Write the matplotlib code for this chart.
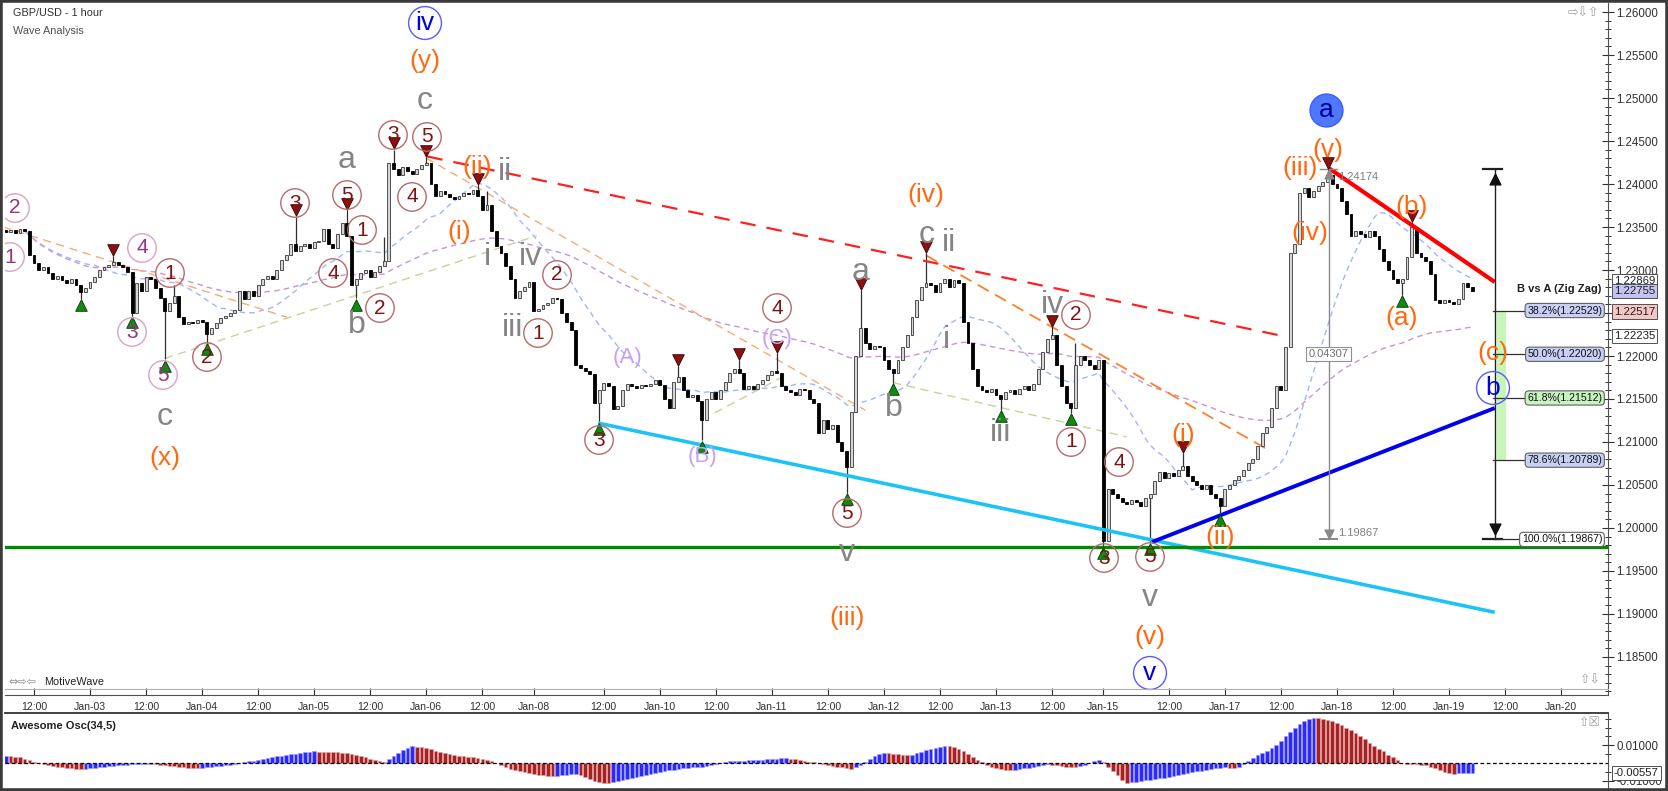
import numpy as np
import pandas as pd
import matplotlib
matplotlib.use("Agg")
import matplotlib.pyplot as plt
from matplotlib.lines import Line2D
from matplotlib.patches import Rectangle
import matplotlib.transforms as mtrans

plt.rcParams['font.family'] = ['Liberation Sans', 'DejaVu Sans']

# ---------------- DATA ----------------
FIRST_BAR = -6          # index of the first hourly bar (bar 0 = Jan-02 12:00)
first_open = 1.2346
closes = [
    # -6 .. 3
    1.2344, 1.2346, 1.2343, 1.2348, 1.2345, 1.2318, 1.2308, 1.2300, 1.2303, 1.2296,
    # 4 .. 13
    1.2290, 1.2293, 1.2288, 1.2285, 1.2289, 1.2282, 1.2274, 1.2279, 1.2286, 1.2292,
    # 14 .. 23
    1.2300, 1.2304, 1.2306, 1.2309, 1.2306, 1.2304, 1.2298, 1.2250, 1.2285, 1.2276,
    # 24 .. 33
    1.2292, 1.2290, 1.2279, 1.2268, 1.2252, 1.2262, 1.2270, 1.2245, 1.2237, 1.2240,
    # 34 .. 43
    1.2238, 1.2242, 1.2239, 1.2226, 1.2233, 1.2238, 1.2244, 1.2247, 1.2250, 1.2254,
    # 44 .. 53
    1.2276, 1.2266, 1.2276, 1.2270, 1.2282, 1.2290, 1.2293, 1.2289, 1.2300, 1.2312,
    # 54 .. 63
    1.2318, 1.2330, 1.2322, 1.2328, 1.2330, 1.2326, 1.2333, 1.2334, 1.2348, 1.2330,
    # 64 .. 73
    1.2326, 1.2342, 1.2355, 1.2340, 1.2282, 1.2290, 1.2296, 1.2300, 1.2292, 1.2298,
    # 74 .. 83
    1.2305, 1.2310, 1.2425, 1.2418, 1.2410, 1.2420, 1.2415, 1.2412, 1.2418, 1.2422,
    # 84 .. 93
    1.2425, 1.2400, 1.2386, 1.2392, 1.2388, 1.2385, 1.2383, 1.2386, 1.2390, 1.2388,
    # 94 .. 103
    1.2393, 1.2386, 1.2370, 1.2376, 1.2345, 1.2328, 1.2320, 1.2305, 1.2290, 1.2268,
    # 104 .. 113
    1.2276, 1.2280, 1.2286, 1.2252, 1.2255, 1.2259, 1.2262, 1.2268, 1.2266, 1.2250,
    # 114 .. 123
    1.2240, 1.2230, 1.2190, 1.2186, 1.2183, 1.2179, 1.2145, 1.2160, 1.2169, 1.2165,
    # 124 .. 133
    1.2138, 1.2142, 1.2160, 1.2168, 1.2165, 1.2163, 1.2166, 1.2165, 1.2168, 1.2172,
    # 134 .. 143
    1.2166, 1.2150, 1.2140, 1.2170, 1.2176, 1.2160, 1.2152, 1.2155, 1.2148, 1.2125,
    # 144 .. 153
    1.2150, 1.2158, 1.2150, 1.2160, 1.2170, 1.2180, 1.2185, 1.2180, 1.2162, 1.2165,
    # 154 .. 163
    1.2162, 1.2168, 1.2172, 1.2178, 1.2182, 1.2180, 1.2165, 1.2160, 1.2158, 1.2155,
    # 164 .. 173
    1.2162, 1.2160, 1.2150, 1.2145, 1.2110, 1.2125, 1.2115, 1.2120, 1.2100, 1.2090,
    # 174 .. 183
    1.2071, 1.2135, 1.2200, 1.2232, 1.2215, 1.2208, 1.2212, 1.2210, 1.2195, 1.2185,
    # 184 .. 193
    1.2180, 1.2195, 1.2210, 1.2225, 1.2245, 1.2265, 1.2280, 1.2285, 1.2282, 1.2275,
    # 194 .. 203
    1.2285, 1.2290, 1.2280, 1.2288, 1.2285, 1.2240, 1.2215, 1.2185, 1.2165, 1.2160,
    # 204 .. 213
    1.2158, 1.2162, 1.2155, 1.2150, 1.2158, 1.2160, 1.2156, 1.2162, 1.2165, 1.2160,
    # 214 .. 223
    1.2168, 1.2185, 1.2205, 1.2220, 1.2225, 1.2190, 1.2165, 1.2145, 1.2140, 1.2190,
    # 224 .. 233
    1.2200, 1.2195, 1.2190, 1.2185, 1.2195, 1.1985, 1.2045, 1.2040, 1.2035, 1.2030,
    # 234 .. 243
    1.2028, 1.2032, 1.2030, 1.2025, 1.2035, 1.2040, 1.2055, 1.2065, 1.2058, 1.2064,
    # 244 .. 253
    1.2060, 1.2068, 1.2072, 1.2060, 1.2055, 1.2050, 1.2045, 1.2050, 1.2040, 1.2035,
    # 254 .. 263
    1.2025, 1.2045, 1.2050, 1.2056, 1.2060, 1.2068, 1.2075, 1.2080, 1.2095, 1.2110,
    # 264 .. 273
    1.2118, 1.2140, 1.2165, 1.2160, 1.2210, 1.2320, 1.2330, 1.2390, 1.2395, 1.2385,
    # 274 .. 283
    1.2392, 1.2398, 1.2402, 1.2410, 1.2400, 1.2395, 1.2380, 1.2365, 1.2340, 1.2345,
    # 284 .. 293
    1.2342, 1.2338, 1.2345, 1.2340, 1.2325, 1.2310, 1.2300, 1.2290, 1.2285, 1.2290,
    # 294 .. 303
    1.2315, 1.2350, 1.2320, 1.2315, 1.2310, 1.2295, 1.2265, 1.2262, 1.2265, 1.2263,
    # 304 .. 308
    1.2260, 1.2266, 1.2285, 1.2280, 1.22755,
]
# wick extremes (bar -> price)
wick_highs = {17: 1.2316, 30: 1.2282, 56: 1.2362, 67: 1.2370, 75: 1.2338, 77: 1.2440,
              84: 1.2431, 95: 1.2399, 97: 1.2392, 138: 1.2188, 151: 1.2195, 159: 1.2203,
              177: 1.2277, 191: 1.2320, 218: 1.2234, 223: 1.2215, 246: 1.2087,
              277: 1.24174, 295: 1.2356}
wick_lows = {10: 1.2266, 21: 1.2247, 28: 1.2196, 37: 1.2215, 69: 1.2267, 121: 1.2122,
             143: 1.2102, 174: 1.2041, 184: 1.2169, 207: 1.2137, 222: 1.2134,
             229: 1.1978, 239: 1.1983, 254: 1.2017, 293: 1.2271}
pivot_high_bars = [17, 56, 67, 77, 84, 95, 138, 151, 159, 177, 191, 218, 246, 277, 295]
pivot_low_bars = [10, 21, 28, 37, 69, 121, 143, 174, 184, 207, 222, 229, 239, 254, 293]

# Awesome Oscillator values (x 0.001), one per bar
ao_milli = [
    4.2, 4.0, 3.6, 3.2, 2.5, 1.5,
    0.8, 0.2, -0.3,
    -1.0, -1.6, -2.1, -2.5, -2.8,
    -3.0, -3.2, -3.35, -3.3, -3.1, -2.8,
    -2.5, -2.2, -1.9, -1.6, -1.3, -1.1, -0.9, -0.7, -0.6, -0.5, -0.4,
    -0.6, -0.8, -1.0, -1.3, -1.6, -1.9, -2.2, -2.4, -2.6, -2.8, -2.9,
    -2.7, -2.5, -2.2, -1.9, -1.6, -1.3, -0.9, -0.5, -0.1,
    0.4, 0.9, 1.4, 1.9, 2.4, 2.9, 3.3, 3.7, 4.1, 4.5, 4.9, 5.3, 5.7, 6.0, 6.3, 6.5,
    6.4, 6.3, 6.2, 6.1, 6.0, 5.8, 5.5, 5.1, 4.6, 4.0, 3.3,
    2.4, 1.6, 1.0, 0.8,
    2.0, 4.0, 5.8, 7.2, 8.5, 9.4,
    9.2, 8.9, 8.4, 7.8, 7.0, 6.2, 5.5, 4.9,
    4.5, 4.2, 3.9, 3.6, 3.3, 3.0, 2.5, 1.8, 0.9,
    -0.2, -1.3, -2.3, -3.2, -4.0, -4.7, -5.3, -5.8, -6.2, -6.6, -6.9, -7.2, -7.5,
    -7.2, -6.8, -6.5, -6.3, -6.2,
    -7.0, -8.0, -9.0, -9.9, -10.6, -11.1, -11.3,
    -10.8, -10.2, -9.6, -9.0, -8.4, -7.8, -7.2, -6.6, -6.0, -5.5, -5.0, -4.5, -4.1, -3.7,
    -3.3, -3.0, -2.7, -2.4, -2.2,
    -2.0, -1.5, -1.0, -0.4, 0.2, 0.8,
    1.0, 1.2, 1.3, 1.4, 1.5, 1.6, 1.7, 1.8, 2.0,
    2.2, 2.4, 2.6, 2.7,
    2.4, 2.0, 1.6, 1.2, 0.8, 0.4, 0.0,
    -0.5, -1.0, -1.5, -2.0, -2.5, -3.0, -3.4,
    -2.5, -1.0, 0.8, 2.5, 4.0, 5.0, 5.8,
    5.5, 5.2, 4.9, 4.6, 4.3,
    4.8, 5.5, 6.3, 7.1, 7.9, 8.6, 9.2, 9.6,
    9.4, 8.9, 8.0, 6.8, 5.2, 3.5, 1.8, 0.3,
    -1.0, -2.0, -2.8, -3.4, -3.8, -4.0,
    -3.8, -3.5, -3.1, -2.7, -2.2, -1.7, -1.2, -0.6,
    -0.9, -1.3, -1.7, -2.0, -2.3, -2.5,
    -1.8, -0.9, 0.0, 1.0, 1.8,
    0.5, -2.0, -4.5, -7.0, -9.5, -11.3,
    -11.0, -10.6, -10.2, -9.8, -9.4, -9.0, -8.6, -8.2, -7.7, -7.2, -6.6, -6.1, -5.6, -5.1,
    -4.7, -4.3, -3.9, -3.5, -3.1, -2.8, -2.5,
    -2.7, -2.8,
    -2.2, -0.8, 1.0, 2.8, 4.5, 5.8, 7.0, 8.2, 10.0, 12.5, 15.0, 17.5, 20.0, 22.0, 23.5,
    24.8, 25.5,
    25.3, 25.0, 24.4, 23.6, 22.8, 21.6, 20.0, 18.5, 17.1, 15.2, 13.3, 11.3, 9.6, 8.0,
    6.5, 4.8, 3.2, 1.8,
    -0.2, -0.4, -0.6, -0.8, -1.0, -1.4, -2.0, -3.0, -4.1, -5.0, -5.8, -6.2,
    -5.9, -5.7, -5.6, -5.57,
]

tick_bars = [0, 12, 24, 36, 48, 60, 72, 84, 96, 107, 122, 134, 146, 158, 170, 182,
             194, 206, 218, 229, 243, 255, 267, 279, 291, 303, 315, 327]
tick_labels = ['12:00', 'Jan-03', '12:00', 'Jan-04', '12:00', 'Jan-05', '12:00', 'Jan-06',
               '12:00', 'Jan-08', '12:00', 'Jan-10', '12:00', 'Jan-11', '12:00', 'Jan-12',
               '12:00', 'Jan-13', '12:00', 'Jan-15', '12:00', 'Jan-17', '12:00', 'Jan-18',
               '12:00', 'Jan-19', '12:00', 'Jan-20']

# trend lines: (bar0, price0, bar1, price1)
line_red_dashed = (84.2, 1.2432, 268.5, 1.2222)
line_red_solid = (277.2, 1.24186, 312.8, 1.2286)
line_cyan = (120.8, 1.2122, 312.8, 1.1902)
line_blue = (239.4, 1.19837, 312.8, 1.21395)
support_level = 1.1978
orange_thin_lines = [(-6.6, 1.2350, 54.2, 1.2245), (84.0, 1.2430, 178.0, 1.2137)]
orange_bold_lines = [(191.0, 1.2317, 263.6, 1.2093)]
tan_lines = [(28.0, 1.2197, 107.7, 1.2340), (184.0, 1.2169, 234.0, 1.2106),
             (145.8, 1.2134, 160.4, 1.2176)]

# measurement of wave A
wave_a_high = 1.24174
wave_a_low = 1.19867
measure_bar = 277.2
fib_bar = 312.8
fib_ratios = [38.2, 50.0, 61.8, 78.6, 100.0]
fib_prices = [1.22529, 1.22020, 1.21512, 1.20789, 1.19867]
fib_fills = ['#c9d0f5', '#c9d0f5', '#c8f2c0', '#c9d0f5', '#ffffff']

price_tags = [1.22869, 1.22755, 1.22517, 1.22235]
price_tag_fills = ['#ffffff', '#c4c4f4', '#f6c6c6', '#ffffff']
ao_last = -0.00557

# wave labels: (text, bar, price, style)
wave_labels = [
    ("2", -4.07, 1.23721, "pc"), ("1", -5.14, 1.23151, "pc"), ("4", 23.13, 1.23256, "pc"),
    ("3", 20.99, 1.22279, "pc"), ("5", 27.62, 1.21779, "pc"),
    ("1", 29.12, 1.22965, "rc"), ("2", 37.04, 1.21988, "rc"), ("3", 55.89, 1.23779, "rc"),
    ("5", 67.02, 1.23872, "rc"), ("1", 70.24, 1.23465, "rc"), ("4", 64.03, 1.22965, "rc"),
    ("2", 74.09, 1.22558, "rc"), ("3", 76.87, 1.24570, "rc"), ("4", 80.94, 1.23849, "rc"),
    ("5", 84.15, 1.24547, "rc"), ("2", 111.99, 1.22942, "rc"), ("1", 107.92, 1.22267, "rc"),
    ("3", 120.99, 1.21023, "rc"), ("4", 159.10, 1.22558, "rc"), ("5", 174.09, 1.20174, "rc"),
    ("2", 223.12, 1.22477, "rc"), ("1", 222.06, 1.21000, "rc"), ("4", 232.33, 1.20767, "rc"),
    ("3", 229.12, 1.19651, "rc"), ("5", 238.97, 1.19663, "rc"),
    ("a", 67.02, 1.24279, "g"), ("b", 69.16, 1.22360, "g"), ("c", 28.05, 1.21291, "g"),
    ("c", 83.73, 1.24965, "g"), ("a", 177.09, 1.22977, "g"), ("b", 184.15, 1.21395, "g"),
    ("c", 191.22, 1.23407, "g"),
    ("ii", 100.86, 1.24140, "g"), ("i", 97.0, 1.23151, "g"), ("iv", 106.21, 1.23151, "g"),
    ("iii", 102.57, 1.22326, "g"), ("ii", 195.93, 1.23314, "g"), ("i", 195.29, 1.22186, "g"),
    ("iii", 207.07, 1.21105, "g"), ("iv", 217.99, 1.22593, "g"), ("v", 174.09, 1.19709, "g"),
    ("v", 238.97, 1.19186, "g"),
    ("(x)", 28.05, 1.20814, "o"), ("(y)", 83.73, 1.25430, "o"), ("(ii)", 94.86, 1.24198, "o"),
    ("(i)", 91.01, 1.23442, "o"), ("(iv)", 191.01, 1.23872, "o"), ("(iii)", 174.09, 1.18953, "o"),
    ("(i)", 246.04, 1.21081, "o"), ("(v)", 238.97, 1.18733, "o"), ("(ii)", 253.96, 1.19895, "o"),
    ("(iii)", 271.09, 1.24186, "o"), ("(v)", 277.09, 1.24395, "o"), ("(iv)", 273.23, 1.23430, "o"),
    ("(b)", 295.07, 1.23733, "o"), ("(a)", 292.93, 1.22442, "o"), ("(c)", 312.42, 1.22035, "o"),
    ("iv", 83.73, 1.25872, "bc"), ("v", 238.97, 1.18314, "bc"), ("a", 276.66, 1.24860, "bf"),
    ("b", 312.42, 1.21628, "bc"),
    ("(A)", 126.98, 1.21988, "lp"), ("(B)", 143.04, 1.20826, "lp"), ("(C)", 159.10, 1.22209, "lp"),
]

# ---------------- FIGURE ----------------
W, H, DPI = 1668, 791, 100
fig = plt.figure(figsize=(W / DPI, H / DPI), dpi=DPI)
fig.patch.set_facecolor('white')

ax = fig.add_axes([5 / W, 1 - 695 / H, (1608 - 5) / W, (695 - 3) / H])
osc = fig.add_axes([5 / W, 1 - 788 / H, (1608 - 5) / W, (788 - 713) / H])

XMIN, XMAX = -6.21, 337.04
ax.set_xlim(XMIN, XMAX)
ax.set_ylim(1.180581, 1.261047)
osc.set_xlim(XMIN, XMAX)
osc.set_ylim(-0.014124, 0.028249)

c = np.array(closes)
n = len(c)
x = np.arange(n) + FIRST_BAR
o = np.r_[first_open, c[:-1]]
hi = np.maximum(o, c)
lo = np.minimum(o, c)
for b, v in wick_highs.items():
    hi[b - FIRST_BAR] = v
for b, v in wick_lows.items():
    lo[b - FIRST_BAR] = v

# moving averages
s = pd.Series(c)
ma_fast = s.rolling(20, min_periods=1).mean()
ma_slow = s.ewm(span=100, adjust=True).mean()
ax.plot(x, ma_slow, color='#c894d6', lw=1.0, ls=(0, (4, 3)), zorder=1)
ax.plot(x, ma_fast, color='#9fb6ff', lw=1.0, ls=(0, (4, 3)), zorder=1)

# candles
ax.vlines(x, lo, hi, color='#303030', lw=0.9, zorder=3)
body = c - o
body = np.where(np.abs(body) < 0.00006, 0.00006 * np.where(body >= 0, 1, -1), body)
up = c >= o
ax.bar(x[up], body[up], bottom=o[up], width=0.62, color='#d6d6d6', edgecolor='#3a3a3a',
       linewidth=0.6, zorder=4)
ax.bar(x[~up], body[~up], bottom=o[~up], width=0.62, color='#000000', edgecolor='#000000',
       linewidth=0.6, zorder=4)


def seg(l, **kw):
    ax.plot([l[0], l[2]], [l[1], l[3]], **kw)


for l in orange_thin_lines:
    seg(l, color='#f7aa7a', lw=1.0, ls=(0, (6, 4)), zorder=2)
for l in orange_bold_lines:
    seg(l, color='#ff7f2a', lw=1.3, ls=(0, (7, 4)), zorder=2)
for l in tan_lines:
    seg(l, color='#cfcf98', lw=1.0, ls=(0, (6, 4)), zorder=2)
seg(line_red_dashed, color='#ff2020', lw=1.6, ls=(0, (7, 5)), zorder=5)
seg(line_red_solid, color='#ff0000', lw=3.0, zorder=5, solid_capstyle='butt')
seg(line_cyan, color='#1ec3f5', lw=2.6, zorder=5, solid_capstyle='butt')
seg(line_blue, color='#0000ee', lw=2.8, zorder=5, solid_capstyle='butt')
ax.axhline(support_level, color='#008a00', lw=2.4, zorder=5)

# pivot markers
ph = np.array(pivot_high_bars)
pl = np.array(pivot_low_bars)
off_h = mtrans.offset_copy(ax.transData, fig=fig, x=0, y=4.5, units='points')
off_l = mtrans.offset_copy(ax.transData, fig=fig, x=0, y=-4.5, units='points')
ax.scatter(ph, hi[ph - FIRST_BAR], marker='v', s=70, color='#8b1010', edgecolors='#3a0000',
           linewidths=0.6, transform=off_h, zorder=7)
ax.scatter(pl, lo[pl - FIRST_BAR], marker='^', s=70, color='#108a10', edgecolors='#003a00',
           linewidths=0.6, transform=off_l, zorder=7)

# measurement of wave A (grey)
ax.plot([measure_bar, measure_bar], [wave_a_low, wave_a_high], color='#8a8a8a', lw=1.0, zorder=6)
ax.plot([measure_bar - 1.8, measure_bar + 1.8], [wave_a_low, wave_a_low], color='#8a8a8a', lw=1.4, zorder=6)
ax.plot([measure_bar - 1.8, measure_bar + 1.8], [wave_a_high, wave_a_high], color='#8a8a8a', lw=1.0, zorder=6)
ax.scatter([measure_bar], [wave_a_low + 0.0006], marker='v', s=40, color='#8a8a8a', zorder=6)
ax.scatter([measure_bar], [wave_a_high - 0.0006], marker='^', s=40, color='#8a8a8a', zorder=6)
ax.text(measure_bar + 2.0, wave_a_high - 0.0009, f"{wave_a_high:.5f}", fontsize=8, color='#808080',
        ha='left', va='center', zorder=8)
ax.text(measure_bar + 2.0, wave_a_low + 0.0007, f"{wave_a_low:.5f}", fontsize=8, color='#808080',
        ha='left', va='center', zorder=8)
ax.text(measure_bar, (wave_a_high + wave_a_low) / 2, f"{wave_a_high - wave_a_low:.5f}", fontsize=8,
        color='#707070', ha='center', va='center', zorder=8,
        bbox=dict(boxstyle='square,pad=0.2', fc='white', ec='#909090', lw=0.8))

# fib retracement of B vs A
ax.fill_between([fib_bar + 0.5, fib_bar + 2.4], fib_prices[3], fib_prices[0], color='#c6f7b6',
                lw=0, zorder=2)
ax.plot([fib_bar, fib_bar], [wave_a_low, wave_a_high], color='#202020', lw=1.0, zorder=6)
ax.plot([fib_bar - 2.5, fib_bar + 1.6], [wave_a_high, wave_a_high], color='#202020', lw=1.6, zorder=6)
ax.plot([fib_bar - 2.5, fib_bar + 1.6], [wave_a_low, wave_a_low], color='#202020', lw=1.6, zorder=6)
ax.scatter([fib_bar], [wave_a_high - 0.0012], marker='^', s=60, color='#101010', zorder=6)
ax.scatter([fib_bar], [wave_a_low + 0.0012], marker='v', s=60, color='#101010', zorder=6)
for r, p, fc in zip(fib_ratios, fib_prices, fib_fills):
    ax.plot([fib_bar - 0.4, 320.5], [p, p], color='#303030', lw=0.9, zorder=6)
    ax.text(335.8, p, f"{r:.1f}%({p:.5f})", fontsize=7.6, ha='right', va='center', color='#101010',
            zorder=9, bbox=dict(boxstyle='round,pad=0.2,rounding_size=0.35', fc=fc, ec='#606060', lw=0.8))
ax.text(335.6, 1.22775, "B vs A (Zig Zag)", fontsize=8, fontweight='bold', ha='right', va='center',
        color='#202020', zorder=9)

# wave labels
styles = {
    'rc': dict(color='#7d1414', fs=15, circ='#b86a6a', s=420),
    'pc': dict(color='#98347a', fs=15, circ='#dca2c8', s=420),
    'g': dict(color='#858585', fs=23, circ=None),
    'o': dict(color='#ff6a10', fs=19, circ=None),
    'lp': dict(color='#c7a0f7', fs=16, circ=None),
    'bc': dict(color='#0000e8', fs=19, circ='#5a5aff', s=560),
    'bf': dict(color='#000090', fs=19, circ='#3a5cff', s=560),
}
for txt, b, p, st in wave_labels:
    d = styles[st]
    if d['circ'] is not None:
        if st == 'bf':
            ax.scatter([b], [p], s=d['s'], marker='o', facecolors='#4d78ff', edgecolors=d['circ'],
                       linewidths=1.0, zorder=10)
        else:
            ax.scatter([b], [p], s=d['s'], marker='o', facecolors='none', edgecolors=d['circ'],
                       linewidths=1.0, zorder=10)
    ax.text(b, p, txt, color=d['color'], fontsize=d['fs'], ha='center', va='center', zorder=11)

# price axis
ax.yaxis.tick_right()
yt = np.round(np.arange(1.185, 1.26001, 0.005), 5)
ax.set_yticks(yt)
ax.set_yticklabels([f"{v:.5f}" for v in yt])
ax.set_yticks(np.round(np.arange(1.181, 1.2605, 0.001), 5), minor=True)
ax.tick_params(axis='y', which='major', direction='inout', length=9, width=0.8, colors='#303030',
               labelsize=8.3, pad=1.5)
ax.tick_params(axis='y', which='minor', direction='inout', length=5, width=0.7, color='#303030')
ax.set_xticks(tick_bars)
ax.set_xticklabels(tick_labels)
ax.tick_params(axis='x', direction='in', length=5, width=0.8, colors='#303030', labelsize=7.6, pad=5)
for sp in ['left', 'top']:
    ax.spines[sp].set_visible(False)
ax.spines['right'].set_color('#505050')
ax.spines['bottom'].set_color('#505050')

# right-hand price tags
ytr = mtrans.blended_transform_factory(ax.transAxes, ax.transData)
for p, fc in zip(price_tags, price_tag_fills):
    ax.text(1.0035, p, f"{p:.5f}", transform=ytr, fontsize=8.2, ha='left', va='center', color='#202020',
            zorder=12, clip_on=False,
            bbox=dict(boxstyle='square,pad=0.18', fc=fc, ec='#505050', lw=0.7))

# ---------------- OSCILLATOR ----------------
ao = np.array(ao_milli) * 0.001
xa = np.arange(len(ao)) + FIRST_BAR
rising = np.r_[True, ao[1:] > ao[:-1]]
osc.bar(xa[rising], ao[rising], width=0.78, color='#2a2aff', edgecolor='#9a9aff', linewidth=0.4, zorder=3)
osc.bar(xa[~rising], ao[~rising], width=0.78, color='#a52222', edgecolor='#e6a0a0', linewidth=0.4, zorder=3)
osc.axhline(0, color='#000000', lw=0.9, ls=(0, (3, 2)), zorder=4)
osc.set_xticks([])
osc.yaxis.tick_right()
osc.set_yticks([-0.01, 0.01])
osc.set_yticklabels(['-0.01000', '0.01000'])
osc.set_yticks([-0.005, 0.005, 0.015, 0.02, 0.025], minor=True)
osc.tick_params(axis='y', which='major', direction='inout', length=9, width=0.8, colors='#303030',
                labelsize=8.3, pad=1.5)
osc.tick_params(axis='y', which='minor', direction='inout', length=5, width=0.7, color='#303030')
for sp in ['left', 'bottom']:
    osc.spines[sp].set_visible(False)
osc.spines['top'].set_color('#505050')
osc.spines['top'].set_linewidth(1.2)
osc.spines['right'].set_color('#505050')
otr = mtrans.blended_transform_factory(osc.transAxes, osc.transData)
osc.text(1.0035, ao_last, f"{ao_last:.5f}", transform=otr, fontsize=8.2, ha='left', va='center',
         color='#202020', zorder=12, clip_on=False,
         bbox=dict(boxstyle='square,pad=0.18', fc='white', ec='#505050', lw=0.7))
osc.text(0.0035, 0.83, "Awesome Osc(34,5)", transform=osc.transAxes, fontsize=8, fontweight='bold',
         ha='left', va='center', color='#202020')

# ---------------- TEXT / FRAME ----------------
fig.text(13 / W, 1 - 13 / H, "GBP/USD - 1 hour", fontsize=7.8, color='#303030', ha='left', va='center')
fig.text(13 / W, 1 - 31 / H, "Wave Analysis", fontsize=7.8, color='#505050', ha='left', va='center')
fig.text(8 / W, 1 - 682 / H, "\u21d4\u21e8\u21e6", fontsize=8, color='#909090', ha='left', va='center',
         family=['DejaVu Sans'])
fig.text(44 / W, 1 - 682 / H, "MotiveWave", fontsize=7.8, color='#202020', ha='left', va='center')
fig.text(1583 / W, 1 - 13 / H, "\u21e8\u21e9\u21e7", fontsize=9, color='#a0a0a0', ha='center',
         va='center', family=['DejaVu Sans'])
fig.text(1590 / W, 1 - 680 / H, "\u21e7\u21e9", fontsize=9, color='#a0a0a0', ha='center', va='center',
         family=['DejaVu Sans'])
fig.text(1590 / W, 1 - 722 / H, "\u21e7\u2612", fontsize=9, color='#a0a0a0', ha='center', va='center',
         family=['DejaVu Sans'])
fig.add_artist(Line2D([5 / W, 1608 / W], [1 - 689 / H, 1 - 689 / H], color='#b0b0b0', lw=0.8))
fig.add_artist(Line2D([5 / W, 1608 / W], [1 - 713 / H, 1 - 713 / H], color='#404040', lw=1.2))
fig.add_artist(Rectangle((0, 0), 1, 1, transform=fig.transFigure, fill=False, edgecolor='#3a3a3a', lw=4))

fig.savefig('out.png', dpi=DPI)
